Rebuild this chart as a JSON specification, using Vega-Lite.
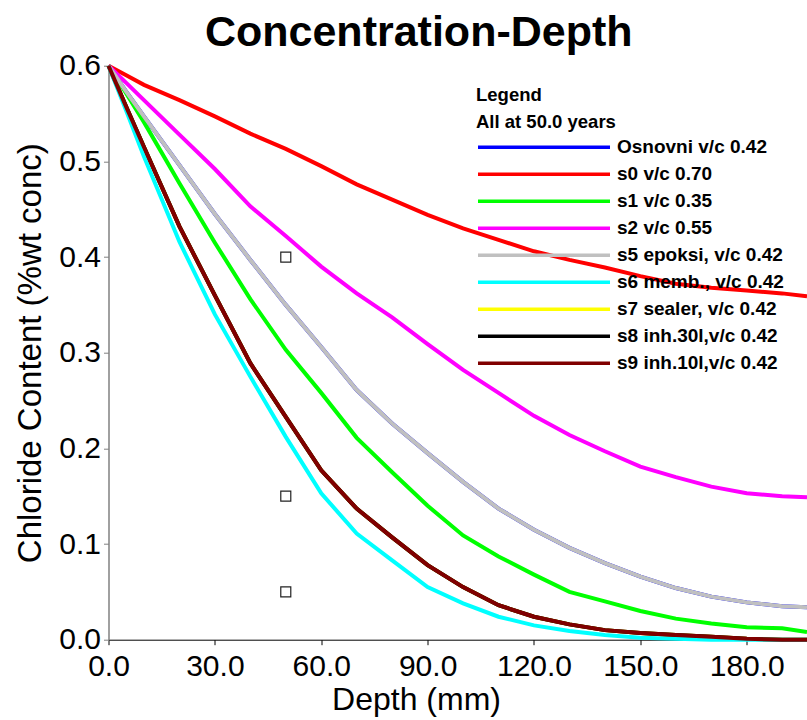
{
  "$schema": "https://vega.github.io/schema/vega-lite/v6.json",
  "width": 698.5,
  "height": 574,
  "autosize": {"type": "none"},
  "padding": {"left": 108.5, "top": 65.7, "right": 0, "bottom": 80.3},
  "background": "white",
  "config": {"view": {"stroke": null}, "font": "Liberation Sans"},
  "title": {"text": "Concentration-Depth", "font": "Liberation Sans", "fontSize": 43, "fontWeight": "bold", "color": "black", "anchor": "middle", "dx": -39, "offset": -4},
  "data": {"values": [
    {"series":"Osnovni v/c 0.42","depth":0,"value":0.600},{"series":"Osnovni v/c 0.42","depth":5,"value":0.573},{"series":"Osnovni v/c 0.42","depth":10,"value":0.547},{"series":"Osnovni v/c 0.42","depth":20,"value":0.496},{"series":"Osnovni v/c 0.42","depth":30,"value":0.445},{"series":"Osnovni v/c 0.42","depth":40,"value":0.397},{"series":"Osnovni v/c 0.42","depth":50,"value":0.350},{"series":"Osnovni v/c 0.42","depth":60,"value":0.306},{"series":"Osnovni v/c 0.42","depth":70,"value":0.261},{"series":"Osnovni v/c 0.42","depth":80,"value":0.226},{"series":"Osnovni v/c 0.42","depth":90,"value":0.195},{"series":"Osnovni v/c 0.42","depth":100,"value":0.165},{"series":"Osnovni v/c 0.42","depth":110,"value":0.137},{"series":"Osnovni v/c 0.42","depth":120,"value":0.115},{"series":"Osnovni v/c 0.42","depth":130,"value":0.096},{"series":"Osnovni v/c 0.42","depth":140,"value":0.080},{"series":"Osnovni v/c 0.42","depth":150,"value":0.066},{"series":"Osnovni v/c 0.42","depth":160,"value":0.054},{"series":"Osnovni v/c 0.42","depth":170,"value":0.045},{"series":"Osnovni v/c 0.42","depth":180,"value":0.039},{"series":"Osnovni v/c 0.42","depth":190,"value":0.035},{"series":"Osnovni v/c 0.42","depth":197,"value":0.034},

    {"series":"s0 v/c 0.70","depth":0,"value":0.600},{"series":"s0 v/c 0.70","depth":5,"value":0.590},{"series":"s0 v/c 0.70","depth":10,"value":0.580},{"series":"s0 v/c 0.70","depth":20,"value":0.564},{"series":"s0 v/c 0.70","depth":30,"value":0.547},{"series":"s0 v/c 0.70","depth":40,"value":0.529},{"series":"s0 v/c 0.70","depth":50,"value":0.513},{"series":"s0 v/c 0.70","depth":60,"value":0.495},{"series":"s0 v/c 0.70","depth":70,"value":0.476},{"series":"s0 v/c 0.70","depth":80,"value":0.460},{"series":"s0 v/c 0.70","depth":90,"value":0.444},{"series":"s0 v/c 0.70","depth":100,"value":0.430},{"series":"s0 v/c 0.70","depth":110,"value":0.418},{"series":"s0 v/c 0.70","depth":120,"value":0.406},{"series":"s0 v/c 0.70","depth":130,"value":0.397},{"series":"s0 v/c 0.70","depth":140,"value":0.389},{"series":"s0 v/c 0.70","depth":150,"value":0.380},{"series":"s0 v/c 0.70","depth":160,"value":0.372},{"series":"s0 v/c 0.70","depth":170,"value":0.368},{"series":"s0 v/c 0.70","depth":180,"value":0.365},{"series":"s0 v/c 0.70","depth":190,"value":0.362},{"series":"s0 v/c 0.70","depth":197,"value":0.359},

    {"series":"s1 v/c 0.35","depth":0,"value":0.600},{"series":"s1 v/c 0.35","depth":5,"value":0.571},{"series":"s1 v/c 0.35","depth":10,"value":0.541},{"series":"s1 v/c 0.35","depth":20,"value":0.477},{"series":"s1 v/c 0.35","depth":30,"value":0.415},{"series":"s1 v/c 0.35","depth":40,"value":0.356},{"series":"s1 v/c 0.35","depth":50,"value":0.303},{"series":"s1 v/c 0.35","depth":60,"value":0.258},{"series":"s1 v/c 0.35","depth":70,"value":0.211},{"series":"s1 v/c 0.35","depth":80,"value":0.175},{"series":"s1 v/c 0.35","depth":90,"value":0.140},{"series":"s1 v/c 0.35","depth":100,"value":0.109},{"series":"s1 v/c 0.35","depth":110,"value":0.087},{"series":"s1 v/c 0.35","depth":120,"value":0.068},{"series":"s1 v/c 0.35","depth":130,"value":0.050},{"series":"s1 v/c 0.35","depth":140,"value":0.040},{"series":"s1 v/c 0.35","depth":150,"value":0.030},{"series":"s1 v/c 0.35","depth":160,"value":0.022},{"series":"s1 v/c 0.35","depth":170,"value":0.017},{"series":"s1 v/c 0.35","depth":180,"value":0.013},{"series":"s1 v/c 0.35","depth":190,"value":0.012},{"series":"s1 v/c 0.35","depth":197,"value":0.008},

    {"series":"s2 v/c 0.55","depth":0,"value":0.600},{"series":"s2 v/c 0.55","depth":5,"value":0.582},{"series":"s2 v/c 0.55","depth":10,"value":0.564},{"series":"s2 v/c 0.55","depth":20,"value":0.528},{"series":"s2 v/c 0.55","depth":30,"value":0.492},{"series":"s2 v/c 0.55","depth":40,"value":0.453},{"series":"s2 v/c 0.55","depth":50,"value":0.422},{"series":"s2 v/c 0.55","depth":60,"value":0.390},{"series":"s2 v/c 0.55","depth":70,"value":0.362},{"series":"s2 v/c 0.55","depth":80,"value":0.337},{"series":"s2 v/c 0.55","depth":90,"value":0.309},{"series":"s2 v/c 0.55","depth":100,"value":0.282},{"series":"s2 v/c 0.55","depth":110,"value":0.258},{"series":"s2 v/c 0.55","depth":120,"value":0.234},{"series":"s2 v/c 0.55","depth":130,"value":0.214},{"series":"s2 v/c 0.55","depth":140,"value":0.197},{"series":"s2 v/c 0.55","depth":150,"value":0.181},{"series":"s2 v/c 0.55","depth":160,"value":0.170},{"series":"s2 v/c 0.55","depth":170,"value":0.160},{"series":"s2 v/c 0.55","depth":180,"value":0.153},{"series":"s2 v/c 0.55","depth":190,"value":0.150},{"series":"s2 v/c 0.55","depth":197,"value":0.149},

    {"series":"s5 epoksi, v/c 0.42","depth":0,"value":0.600},{"series":"s5 epoksi, v/c 0.42","depth":5,"value":0.573},{"series":"s5 epoksi, v/c 0.42","depth":10,"value":0.547},{"series":"s5 epoksi, v/c 0.42","depth":20,"value":0.496},{"series":"s5 epoksi, v/c 0.42","depth":30,"value":0.445},{"series":"s5 epoksi, v/c 0.42","depth":40,"value":0.397},{"series":"s5 epoksi, v/c 0.42","depth":50,"value":0.350},{"series":"s5 epoksi, v/c 0.42","depth":60,"value":0.306},{"series":"s5 epoksi, v/c 0.42","depth":70,"value":0.261},{"series":"s5 epoksi, v/c 0.42","depth":80,"value":0.226},{"series":"s5 epoksi, v/c 0.42","depth":90,"value":0.195},{"series":"s5 epoksi, v/c 0.42","depth":100,"value":0.165},{"series":"s5 epoksi, v/c 0.42","depth":110,"value":0.137},{"series":"s5 epoksi, v/c 0.42","depth":120,"value":0.115},{"series":"s5 epoksi, v/c 0.42","depth":130,"value":0.096},{"series":"s5 epoksi, v/c 0.42","depth":140,"value":0.080},{"series":"s5 epoksi, v/c 0.42","depth":150,"value":0.066},{"series":"s5 epoksi, v/c 0.42","depth":160,"value":0.054},{"series":"s5 epoksi, v/c 0.42","depth":170,"value":0.045},{"series":"s5 epoksi, v/c 0.42","depth":180,"value":0.039},{"series":"s5 epoksi, v/c 0.42","depth":190,"value":0.035},{"series":"s5 epoksi, v/c 0.42","depth":197,"value":0.034},

    {"series":"s6 memb., v/c 0.42","depth":0,"value":0.600},{"series":"s6 memb., v/c 0.42","depth":5,"value":0.553},{"series":"s6 memb., v/c 0.42","depth":10,"value":0.505},{"series":"s6 memb., v/c 0.42","depth":20,"value":0.416},{"series":"s6 memb., v/c 0.42","depth":30,"value":0.340},{"series":"s6 memb., v/c 0.42","depth":40,"value":0.275},{"series":"s6 memb., v/c 0.42","depth":50,"value":0.212},{"series":"s6 memb., v/c 0.42","depth":60,"value":0.153},{"series":"s6 memb., v/c 0.42","depth":70,"value":0.111},{"series":"s6 memb., v/c 0.42","depth":80,"value":0.083},{"series":"s6 memb., v/c 0.42","depth":90,"value":0.055},{"series":"s6 memb., v/c 0.42","depth":100,"value":0.038},{"series":"s6 memb., v/c 0.42","depth":110,"value":0.024},{"series":"s6 memb., v/c 0.42","depth":120,"value":0.015},{"series":"s6 memb., v/c 0.42","depth":130,"value":0.009},{"series":"s6 memb., v/c 0.42","depth":140,"value":0.005},{"series":"s6 memb., v/c 0.42","depth":150,"value":0.002},{"series":"s6 memb., v/c 0.42","depth":160,"value":0.001},{"series":"s6 memb., v/c 0.42","depth":170,"value":0.000},{"series":"s6 memb., v/c 0.42","depth":180,"value":0.000},{"series":"s6 memb., v/c 0.42","depth":190,"value":0.000},{"series":"s6 memb., v/c 0.42","depth":197,"value":0.000},

    {"series":"s7 sealer, v/c 0.42","depth":0,"value":0.600},{"series":"s7 sealer, v/c 0.42","depth":5,"value":0.557},{"series":"s7 sealer, v/c 0.42","depth":10,"value":0.515},{"series":"s7 sealer, v/c 0.42","depth":20,"value":0.432},{"series":"s7 sealer, v/c 0.42","depth":30,"value":0.360},{"series":"s7 sealer, v/c 0.42","depth":40,"value":0.289},{"series":"s7 sealer, v/c 0.42","depth":50,"value":0.233},{"series":"s7 sealer, v/c 0.42","depth":60,"value":0.177},{"series":"s7 sealer, v/c 0.42","depth":70,"value":0.137},{"series":"s7 sealer, v/c 0.42","depth":80,"value":0.107},{"series":"s7 sealer, v/c 0.42","depth":90,"value":0.078},{"series":"s7 sealer, v/c 0.42","depth":100,"value":0.055},{"series":"s7 sealer, v/c 0.42","depth":110,"value":0.036},{"series":"s7 sealer, v/c 0.42","depth":120,"value":0.024},{"series":"s7 sealer, v/c 0.42","depth":130,"value":0.016},{"series":"s7 sealer, v/c 0.42","depth":140,"value":0.010},{"series":"s7 sealer, v/c 0.42","depth":150,"value":0.007},{"series":"s7 sealer, v/c 0.42","depth":160,"value":0.005},{"series":"s7 sealer, v/c 0.42","depth":170,"value":0.003},{"series":"s7 sealer, v/c 0.42","depth":180,"value":0.001},{"series":"s7 sealer, v/c 0.42","depth":190,"value":0.000},{"series":"s7 sealer, v/c 0.42","depth":197,"value":0.000},

    {"series":"s8 inh.30l,v/c 0.42","depth":0,"value":0.600},{"series":"s8 inh.30l,v/c 0.42","depth":5,"value":0.557},{"series":"s8 inh.30l,v/c 0.42","depth":10,"value":0.515},{"series":"s8 inh.30l,v/c 0.42","depth":20,"value":0.432},{"series":"s8 inh.30l,v/c 0.42","depth":30,"value":0.360},{"series":"s8 inh.30l,v/c 0.42","depth":40,"value":0.289},{"series":"s8 inh.30l,v/c 0.42","depth":50,"value":0.233},{"series":"s8 inh.30l,v/c 0.42","depth":60,"value":0.177},{"series":"s8 inh.30l,v/c 0.42","depth":70,"value":0.137},{"series":"s8 inh.30l,v/c 0.42","depth":80,"value":0.107},{"series":"s8 inh.30l,v/c 0.42","depth":90,"value":0.078},{"series":"s8 inh.30l,v/c 0.42","depth":100,"value":0.055},{"series":"s8 inh.30l,v/c 0.42","depth":110,"value":0.036},{"series":"s8 inh.30l,v/c 0.42","depth":120,"value":0.024},{"series":"s8 inh.30l,v/c 0.42","depth":130,"value":0.016},{"series":"s8 inh.30l,v/c 0.42","depth":140,"value":0.010},{"series":"s8 inh.30l,v/c 0.42","depth":150,"value":0.007},{"series":"s8 inh.30l,v/c 0.42","depth":160,"value":0.005},{"series":"s8 inh.30l,v/c 0.42","depth":170,"value":0.003},{"series":"s8 inh.30l,v/c 0.42","depth":180,"value":0.001},{"series":"s8 inh.30l,v/c 0.42","depth":190,"value":0.000},{"series":"s8 inh.30l,v/c 0.42","depth":197,"value":0.000},

    {"series":"s9 inh.10l,v/c 0.42","depth":0,"value":0.600},{"series":"s9 inh.10l,v/c 0.42","depth":5,"value":0.557},{"series":"s9 inh.10l,v/c 0.42","depth":10,"value":0.515},{"series":"s9 inh.10l,v/c 0.42","depth":20,"value":0.432},{"series":"s9 inh.10l,v/c 0.42","depth":30,"value":0.360},{"series":"s9 inh.10l,v/c 0.42","depth":40,"value":0.289},{"series":"s9 inh.10l,v/c 0.42","depth":50,"value":0.233},{"series":"s9 inh.10l,v/c 0.42","depth":60,"value":0.177},{"series":"s9 inh.10l,v/c 0.42","depth":70,"value":0.137},{"series":"s9 inh.10l,v/c 0.42","depth":80,"value":0.107},{"series":"s9 inh.10l,v/c 0.42","depth":90,"value":0.078},{"series":"s9 inh.10l,v/c 0.42","depth":100,"value":0.055},{"series":"s9 inh.10l,v/c 0.42","depth":110,"value":0.036},{"series":"s9 inh.10l,v/c 0.42","depth":120,"value":0.024},{"series":"s9 inh.10l,v/c 0.42","depth":130,"value":0.016},{"series":"s9 inh.10l,v/c 0.42","depth":140,"value":0.010},{"series":"s9 inh.10l,v/c 0.42","depth":150,"value":0.007},{"series":"s9 inh.10l,v/c 0.42","depth":160,"value":0.005},{"series":"s9 inh.10l,v/c 0.42","depth":170,"value":0.003},{"series":"s9 inh.10l,v/c 0.42","depth":180,"value":0.001},{"series":"s9 inh.10l,v/c 0.42","depth":190,"value":0.000},{"series":"s9 inh.10l,v/c 0.42","depth":197,"value":0.000}
  ]},
  "encoding": {
    "x": {"field": "depth", "type": "quantitative",
      "scale": {"domain": [0, 197], "nice": false, "zero": true},
      "axis": {"values": [0, 30, 60, 90, 120, 150, 180], "format": ".1f", "grid": false,
        "domainColor": "black", "domainWidth": 1, "tickColor": "black", "tickSize": 5, "tickWidth": 1,
        "labelFont": "Liberation Sans", "labelFontSize": 30, "labelColor": "black", "labelPadding": 7,
        "labelFlush": false, "labelOverlap": false, "labelBound": false,
        "title": "Depth (mm)", "titleFont": "Liberation Sans", "titleFontSize": 32, "titleFontWeight": "normal",
        "titleColor": "black", "titlePadding": 3, "titleX": 307.5}},
    "y": {"field": "value", "type": "quantitative",
      "scale": {"domain": [0, 0.6], "nice": false, "zero": true},
      "axis": {"values": [0, 0.1, 0.2, 0.3, 0.4, 0.5, 0.6], "format": ".1f", "grid": false,
        "domainColor": "#808080", "domainWidth": 1.5, "tickColor": "#808080", "tickSize": 5, "tickWidth": 1,
        "labelFont": "Liberation Sans", "labelFontSize": 30, "labelColor": "black", "labelPadding": 3,
        "labelFlush": false, "labelOverlap": false, "labelBound": false,
        "title": "Chloride Content (%wt conc)", "titleFont": "Liberation Sans", "titleFontSize": 33,
        "titleFontWeight": "normal", "titleColor": "black", "titlePadding": 11}}
  },
  "layer": [
    {
      "transform": [{"filter": {"field": "series", "oneOf": ["Osnovni v/c 0.42", "s7 sealer, v/c 0.42", "s8 inh.30l,v/c 0.42"]}}],
      "mark": {"type": "line", "strokeWidth": 4},
      "encoding": {
        "color": {"field": "series", "type": "nominal",
          "scale": {"domain": ["Osnovni v/c 0.42", "s0 v/c 0.70", "s1 v/c 0.35", "s2 v/c 0.55", "s5 epoksi, v/c 0.42", "s6 memb., v/c 0.42", "s7 sealer, v/c 0.42", "s8 inh.30l,v/c 0.42", "s9 inh.10l,v/c 0.42"],
            "range": ["#0000FF", "#FF0000", "#00FF00", "#FF00FF", "#C0C0C0", "#00FFFF", "#FFFF00", "#000000", "#800000"]},
          "legend": {"orient": "none", "legendX": 367.5, "legendY": 20, "direction": "vertical",
            "title": ["Legend", "All at 50.0 years"], "titleFont": "Liberation Sans", "titleFontSize": 18.5,
            "titleFontWeight": "bold", "titleColor": "black", "titleLineHeight": 27, "titlePadding": 3,
            "titleAnchor": "start", "titleAlign": "left",
            "labelFont": "Liberation Sans", "labelFontSize": 19, "labelFontWeight": "bold", "labelColor": "black",
            "labelOffset": 5, "labelLimit": 400,
            "symbolType": "stroke", "symbolSize": 17424, "symbolStrokeWidth": 3.5, "symbolOffset": 0,
            "clipHeight": 26.2, "rowPadding": 0, "padding": 0}}
      }
    },
    {
      "transform": [{"filter": {"field": "series", "oneOf": ["s0 v/c 0.70", "s1 v/c 0.35", "s2 v/c 0.55", "s5 epoksi, v/c 0.42", "s6 memb., v/c 0.42"]}}],
      "mark": {"type": "line", "strokeWidth": 4},
      "encoding": {
        "color": {"field": "series", "type": "nominal"}
      }
    },
    {
      "transform": [{"filter": {"field": "series", "equal": "s9 inh.10l,v/c 0.42"}}],
      "mark": {"type": "line", "strokeWidth": 4},
      "encoding": {
        "color": {"field": "series", "type": "nominal"}
      }
    },
    {
      "data": {"values": [{"depth": 50, "value": 0.4}, {"depth": 50, "value": 0.15}, {"depth": 50, "value": 0.05}]},
      "mark": {"type": "point", "shape": "square", "filled": false, "color": "#222222", "size": 100, "strokeWidth": 1.2, "opacity": 1}
    }
  ]
}
